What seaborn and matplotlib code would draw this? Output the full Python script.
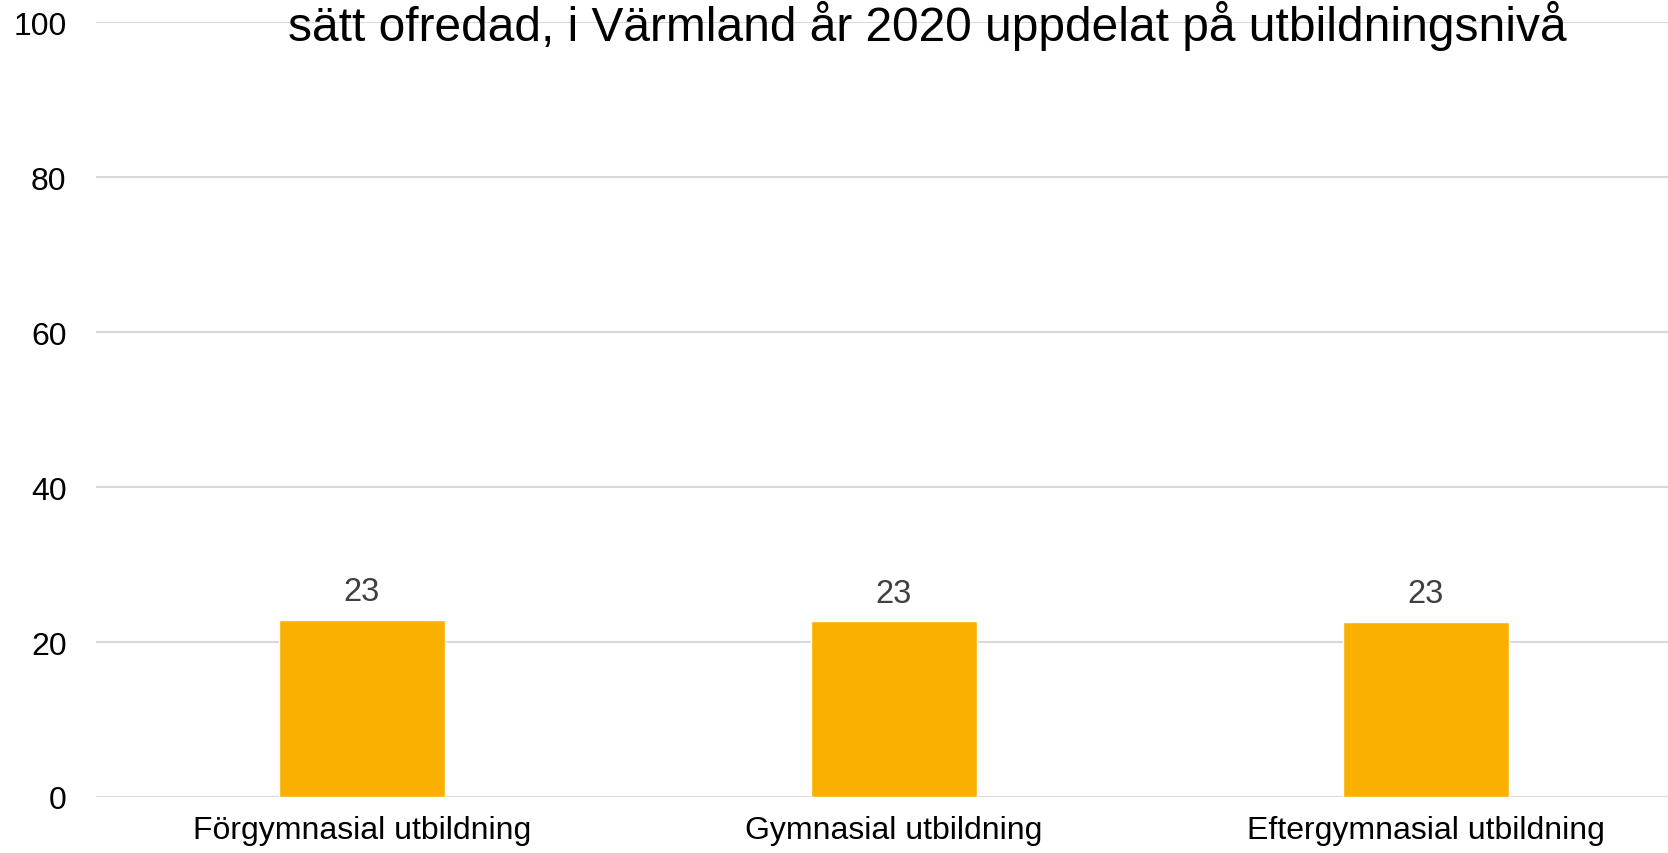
import matplotlib
matplotlib.use("Agg")
import matplotlib.pyplot as plt
import seaborn as sns
import pandas as pd

# Share of people who felt unsafe, by education level (Värmland 2020)
categories = ["Förgymnasial utbildning", "Gymnasial utbildning", "Eftergymnasial utbildning"]
values = [22.9, 22.7, 22.6]
y_ticks = [0, 20, 40, 60, 80, 100]
title_line = "sätt ofredad, i Värmland år 2020 uppdelat på utbildningsnivå"

bar_color = "#F9B000"
grid_color = "#D9D9D9"

sns.set_theme(style="white")
plt.rcParams["font.family"] = ["Liberation Sans", "DejaVu Sans"]

df = pd.DataFrame({"niva": categories, "andel": values})

fig = plt.figure(figsize=(16.68, 8.54), dpi=100)
ax = fig.add_axes([0.0574, 0.0656, 0.957, 0.907])

sns.barplot(data=df, x="niva", y="andel", color=bar_color, saturation=1,
            width=0.312, ax=ax, zorder=3)

ax.set_ylim(0, 100)
ax.set_xlim(-0.5, len(categories) - 0.5)
ax.set_yticks(y_ticks)
ax.set_yticklabels([str(t) for t in y_ticks], fontsize=23)
ax.yaxis.grid(True, color=grid_color, linewidth=1.5, zorder=0)
ax.xaxis.grid(False)
ax.set_axisbelow(True)
for s in ax.spines.values():
    s.set_visible(False)
ax.set_xlabel("")
ax.set_ylabel("")
ax.tick_params(axis="y", length=0, pad=21, labelsize=23, labelcolor="black")
ax.tick_params(axis="x", length=0, pad=13, labelsize=23, labelcolor="black")

for cont in ax.containers:
    ax.bar_label(cont, labels=[f"{v:.0f}" for v in values], padding=9,
                 fontsize=23.5, color="#404040")

fig.text(0.556, 1 - 41 / 854, title_line, ha="center", va="baseline",
         fontsize=34.5, color="black")

fig.savefig("out.png", dpi=100)
